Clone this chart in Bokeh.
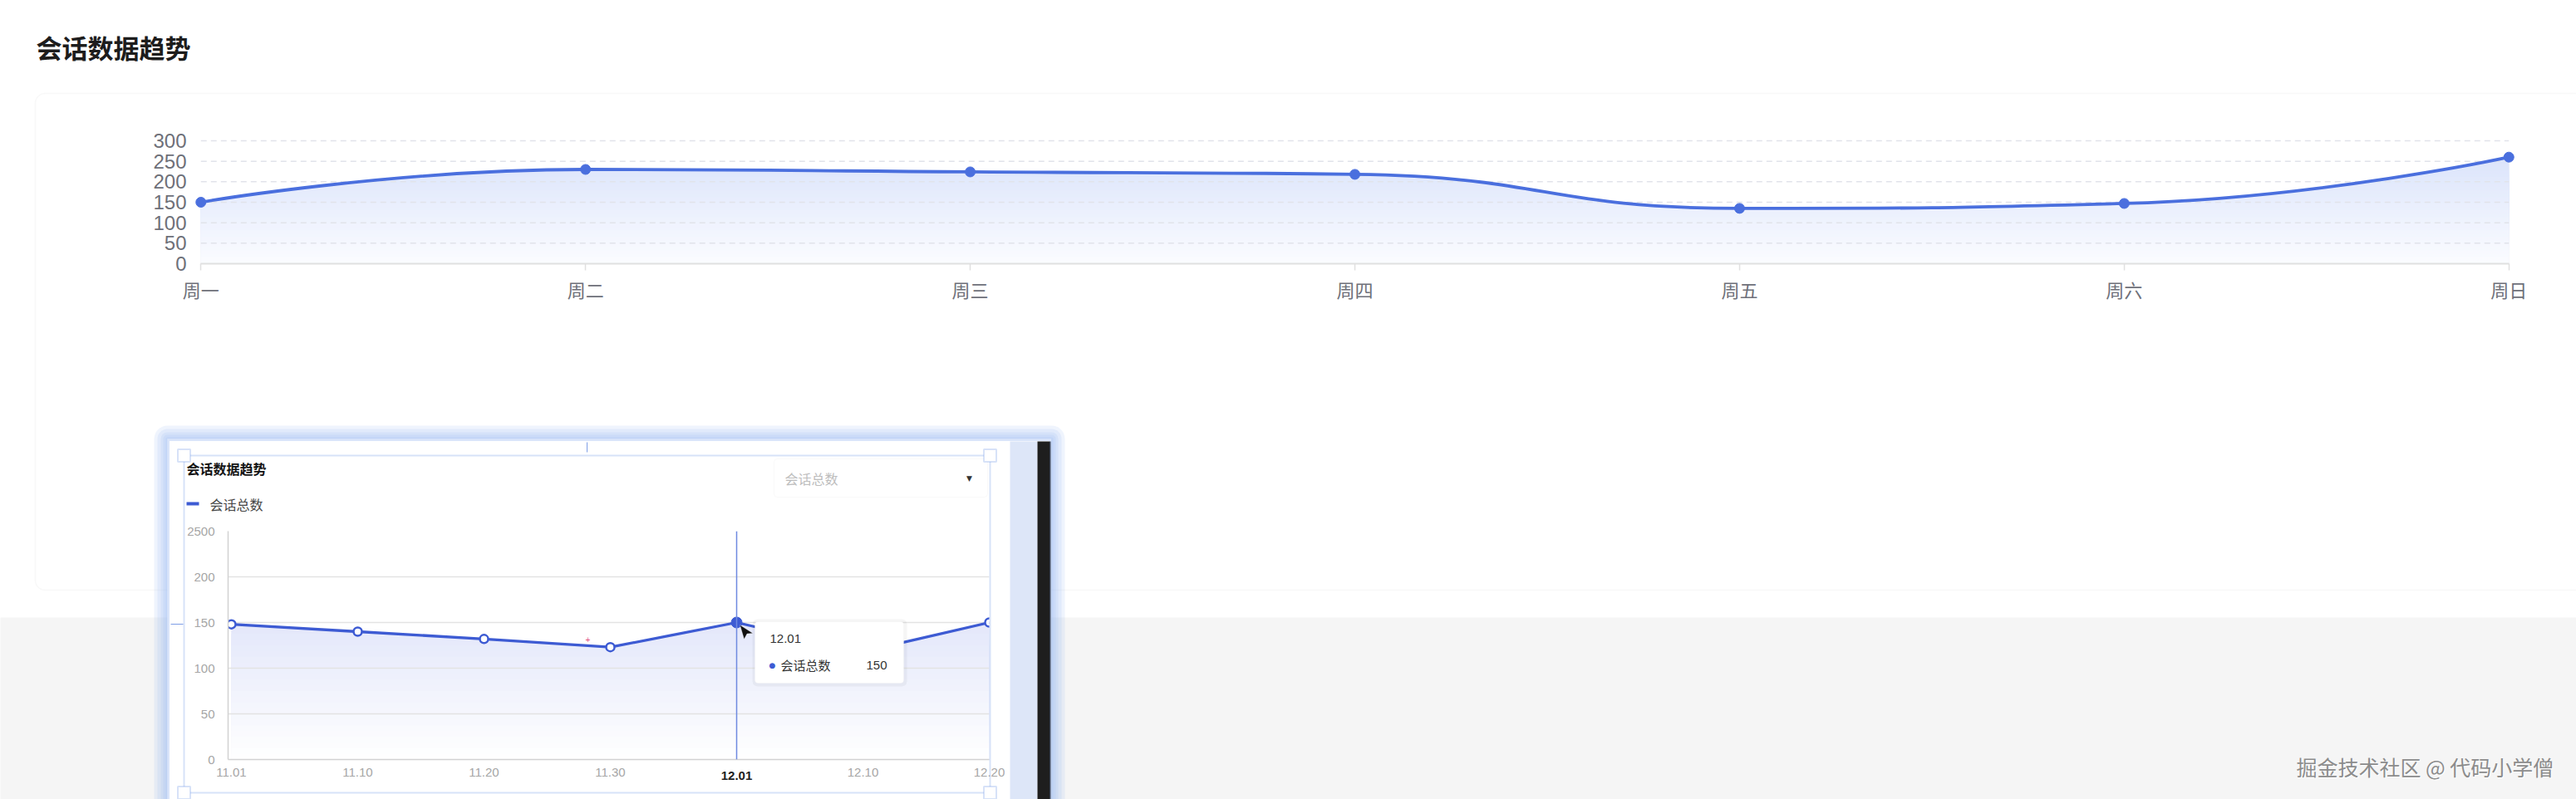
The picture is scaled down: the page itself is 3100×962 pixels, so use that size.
import math
import numpy as np
from bokeh.plotting import figure
from bokeh.models import (Range1d, FixedTicker, BoxAnnotation, Label, Span,
                          PolyAnnotation, ColumnDataSource, Plot)
from bokeh.layouts import column
from bokeh.embed import file_html
from bokeh.resources import INLINE

# ---------------- data ----------------
days = ["周一", "周二", "周三", "周四", "周五", "周六", "周日"]
sessions = [150, 230, 224, 218, 135, 147, 260]
y_ticks = [0, 50, 100, 150, 200, 250, 300]

inset_dates = ["11.01", "11.10", "11.20", "11.30", "12.01", "12.10", "12.20"]
inset_values = [148, 140, 132, 123, 150, 118, 150]
inset_y_ticks = [0, 50, 100, 150, 200, 250]
inset_top_label = "2500"
hover_index = 4

series_name = "会话总数"
page_title = "会话数据趋势"
watermark = "掘金技术社区 @ 代码小学僧"

CJK = "Noto Sans CJK SC"
LAT = "Liberation Sans"
MAIN_BLUE = "#4a6fde"
INSET_BLUE = "#3d5bd3"
HAS_FRAME_ALIGN = "frame_align" in Plot.properties()


def hexc(c):
    return "#%02x%02x%02x" % tuple(int(round(v)) for v in c)


def echarts_smooth(xs, ys, smooth=0.5):
    """Bezier control points like ECharts' smooth line (in pixel space)."""
    n = len(xs)
    segs = []
    cpx0, cpy0 = xs[0], ys[0]
    for i in range(1, n):
        x, y = xs[i], ys[i]
        px, py = xs[i - 1], ys[i - 1]
        if i == n - 1:
            segs.append((px, py, cpx0, cpy0, x, y, x, y))
            break
        nx, ny = xs[i + 1], ys[i + 1]
        vx, vy = nx - px, ny - py
        lp = math.hypot(x - px, y - py)
        ln = math.hypot(nx - x, ny - y)
        r = ln / (ln + lp)
        ncx = x + vx * smooth * r
        ncy = y + vy * smooth * r
        ncx = min(ncx, max(nx, x)); ncy = min(ncy, max(ny, y))
        ncx = max(ncx, min(nx, x)); ncy = max(ncy, min(ny, y))
        vx, vy = ncx - x, ncy - y
        cpx1 = x - vx * lp / ln
        cpy1 = y - vy * lp / ln
        cpx1 = min(cpx1, max(px, x)); cpy1 = min(cpy1, max(py, y))
        cpx1 = max(cpx1, min(px, x)); cpy1 = max(cpy1, min(py, y))
        vx, vy = x - cpx1, y - cpy1
        ncx = x + vx * ln / lp
        ncy = y + vy * ln / lp
        segs.append((px, py, cpx0, cpy0, cpx1, cpy1, x, y))
        cpx0, cpy0 = ncx, ncy
    return segs


def base_fig(w, h, **kw):
    f = figure(width=w, height=h, output_backend="svg", toolbar_location=None, **kw)
    f.outline_line_color = None
    if HAS_FRAME_ALIGN:
        f.frame_align = False
    return f


def canvas_fig(w, h, margin=None, bg=None):
    """A figure whose frame is its whole canvas, in pixel coordinates (y down)."""
    kw = dict(x_range=Range1d(0, w), y_range=Range1d(h, 0), x_axis_type=None, y_axis_type=None,
              min_border_left=0, min_border_right=0, min_border_top=0, min_border_bottom=0)
    if margin is not None:
        kw["margin"] = margin
    f = base_fig(w, h, **kw)
    f.background_fill_color = bg
    f.border_fill_color = None
    return f


def box(**kw):
    return BoxAnnotation(**kw)


W, H = 3100, 962

# ---------------- layer A: page decoration ----------------
bgf = canvas_fig(W, H, bg="white")
bgf.add_layout(box(left=-10, right=W + 10, top=743, bottom=H + 10,
                   fill_color="#f5f5f5", fill_alpha=1, line_color=None))
bgf.add_layout(box(left=42, right=W + 40, top=112, bottom=710, fill_color=None,
                   line_color="#e8e8e8", line_width=1.5, border_radius=12))
for g in (16, 12, 8, 5, 2):
    bgf.add_layout(box(left=201 - g, right=1265 + g, top=528 - g, bottom=H + 20,
                       fill_color="#94b2f4", fill_alpha=0.15, line_color=None, border_radius=g))
bgf.add_layout(Label(x=43, y=56, text=page_title, text_font=CJK, text_font_size="31px",
                     text_font_style="bold", text_color="#1d1d1d",
                     text_align="left", text_baseline="middle"))
bgf.add_layout(Label(x=2764, y=923, text=watermark, text_font=CJK, text_font_size="25px",
                     text_color="#ffffff", text_align="left", text_baseline="middle"))
bgf.add_layout(Label(x=2763, y=922, text=watermark, text_font=CJK, text_font_size="25px",
                     text_color="#8c8c8c", text_align="left", text_baseline="middle"))

# ---------------- layer B: main chart ----------------
FL, FR, FT, FB = 232, 3028, 166, 317
XPAD = 0.02
YTOP = 306
nd = len(days)

p = base_fig(W, H, x_range=Range1d(-XPAD, nd - 1 + XPAD), y_range=Range1d(0, YTOP),
             min_border_left=FL, min_border_right=W - FR,
             min_border_top=FT, min_border_bottom=H - FB, margin=(-H, 0, 0, 0))
p.background_fill_color = None
p.border_fill_color = None
p.xgrid.visible = False
p.ygrid.visible = False

xa = p.xaxis[0]
xa.ticker = FixedTicker(ticks=list(range(nd)))
xa.major_label_overrides = {i: d for i, d in enumerate(days)}
xa.bounds = (0, nd - 1)
xa.axis_line_color = "#e0e0e0"
xa.axis_line_width = 2
xa.major_tick_line_color = "#e0e0e0"
xa.major_tick_line_width = 1.5
xa.major_tick_out = 8
xa.major_tick_in = 0
xa.minor_tick_line_color = None
xa.major_label_text_font = CJK
xa.major_label_text_font_size = "22px"
xa.major_label_text_color = "#6e7079"
xa.major_label_standoff = 6

ya = p.yaxis[0]
ya.ticker = FixedTicker(ticks=y_ticks)
ya.axis_line_color = None
ya.major_tick_line_color = None
ya.minor_tick_line_color = None
ya.major_tick_out = 0
ya.major_tick_in = 0
ya.major_label_standoff = 8
ya.major_label_text_font = LAT
ya.major_label_text_font_size = "24px"
ya.major_label_text_color = "#6e7079"

sxp = (FR - FL) / (nd - 1 + 2 * XPAD)
syp = (FB - FT) / YTOP
segs = echarts_smooth([i * sxp for i in range(nd)], [v * syp for v in sessions])
segs = [(a / sxp, b / syp, c / sxp, d / syp, e / sxp, f / syp, g / sxp, h / syp)
        for (a, b, c, d, e, f, g, h) in segs]

bz = ColumnDataSource(dict(
    x0=[s[0] for s in segs], y0=[s[1] for s in segs],
    cx0=[s[2] for s in segs], cy0=[s[3] for s in segs],
    cx1=[s[4] for s in segs], cy1=[s[5] for s in segs],
    x1=[s[6] for s in segs], y1=[s[7] for s in segs]))

t = np.linspace(0, 1, 60)
cx, cy = [], []
for k, (a, b, c, d, e, f, g, h) in enumerate(segs):
    tt = t if k == 0 else t[1:]
    mt = 1 - tt
    cx.append(mt**3 * a + 3 * mt**2 * tt * c + 3 * mt * tt**2 * e + tt**3 * g)
    cy.append(mt**3 * b + 3 * mt**2 * tt * d + 3 * mt * tt**2 * f + tt**3 * h)
cx = np.concatenate(cx)
cy = np.concatenate(cy)

top_c = np.array([219, 228, 251])
bot_c = np.array([251, 252, 255])
nb = 32
vmax = max(sessions)
for k in range(nb):
    hi = vmax * (1 - k / nb)
    mid = vmax * (1 - (k + 0.5) / nb)
    col = bot_c + (top_c - bot_c) * (mid / vmax)
    p.varea(x=cx, y1=0, y2=np.minimum(cy, hi), fill_color=hexc(col), level="image")

grid_levels = y_ticks[1:]
p.segment(x0=0, x1=nd - 1, y0=grid_levels, y1=grid_levels, line_color="#e1e3ea",
          line_width=1.5, line_dash="7 5", level="underlay")

p.bezier(x0="x0", y0="y0", x1="x1", y1="y1", cx0="cx0", cy0="cy0", cx1="cx1", cy1="cy1",
         source=bz, line_color=MAIN_BLUE, line_width=3.8)
p.scatter(x=list(range(nd)), y=sessions, size=12, marker="circle",
          fill_color=MAIN_BLUE, line_color=MAIN_BLUE)

# ---------------- inset (screenshot of a chart editor) ----------------
IX, IY = 201, 528
IW, IH = 1064, H - IY
IMARGIN = (-(H - IY), 0, 0, IX)
IFL, IFR, IFT, IFB = 73, 989, 111, 386
IXPAD = 0.0263
ni = len(inset_dates)
SEL = "#7ba0e9"

# layer C: inset panel chrome
ibg = canvas_fig(IW, IH, margin=IMARGIN, bg="white")
ibg.add_layout(box(left=1014, right=1047, top=3, bottom=IH + 5,
                   fill_color="#dde6f8", fill_alpha=1, line_color=None))
ibg.add_layout(box(left=1047, right=1063, top=3, bottom=IH + 5,
                   fill_color="#1e1e1e", fill_alpha=1, line_color=None))
ibg.add_layout(box(left=1, right=IW - 1, top=1, bottom=IH + 10,
                   fill_color=None, line_color="#86a9f0", line_width=3))
ibg.add_layout(Label(x=23, y=35, text=page_title, text_font=CJK, text_font_size="16px",
                     text_font_style="bold", text_color="#141414",
                     text_align="left", text_baseline="middle"))
ibg.add_layout(box(left=23, right=38, top=76, bottom=80,
                   fill_color=INSET_BLUE, fill_alpha=1, line_color=None))
ibg.add_layout(Label(x=51, y=78, text=series_name, text_font=CJK, text_font_size="16px",
                     text_color="#454545", text_align="left", text_baseline="middle"))
ibg.add_layout(box(left=730, right=987, top=24, bottom=70, fill_color="white", fill_alpha=1,
                   line_color="#ebebeb", line_width=1, border_radius=4))
ibg.add_layout(Label(x=743, y=47, text=series_name, text_font=CJK, text_font_size="16px",
                     text_color="#bdbdbd", text_align="left", text_baseline="middle"))
ibg.add_layout(Label(x=965, y=47, text="▼", text_font="DejaVu Sans", text_font_size="9px",
                     text_color="#333333", text_align="center", text_baseline="middle"))

# layer D: inset chart
q = base_fig(IW, IH, x_range=Range1d(-IXPAD, ni - 1), y_range=Range1d(0, inset_y_ticks[-1]),
             min_border_left=IFL, min_border_right=IW - IFR,
             min_border_top=IFT, min_border_bottom=IH - IFB, margin=IMARGIN)
q.background_fill_color = None
q.border_fill_color = None
q.xgrid.visible = False
q.ygrid.grid_line_color = "#e3e3e3"
q.ygrid.grid_line_width = 1.5

qx = q.xaxis[0]
qx.ticker = FixedTicker(ticks=list(range(ni)))
qx.major_label_overrides = {i: ("" if i == hover_index else d) for i, d in enumerate(inset_dates)}
qx.axis_line_color = "#d2d2d2"
qx.axis_line_width = 1.5
qx.major_tick_line_color = None
qx.minor_tick_line_color = None
qx.major_tick_out = 0
qx.major_tick_in = 0
qx.major_label_standoff = 10
qx.major_label_text_font = LAT
qx.major_label_text_font_size = "15px"
qx.major_label_text_color = "#a6a6a6"

qy = q.yaxis[0]
qy.ticker = FixedTicker(ticks=inset_y_ticks)
qy.major_label_overrides = {inset_y_ticks[-1]: inset_top_label}
qy.axis_line_color = "#d2d2d2"
qy.axis_line_width = 1.5
qy.major_tick_line_color = None
qy.minor_tick_line_color = None
qy.major_tick_out = 0
qy.major_tick_in = 0
qy.major_label_standoff = 16
qy.major_label_text_font = LAT
qy.major_label_text_font_size = "15px"
qy.major_label_text_color = "#a6a6a6"

xi = list(range(ni))
fx = np.linspace(0, ni - 1, 601)
fy = np.interp(fx, xi, inset_values)
itop = np.array([227, 231, 250])
ibot = np.array([255, 255, 255])
ivmax = max(inset_values)
for k in range(24):
    hi = ivmax * (1 - k / 24)
    mid = ivmax * (1 - (k + 0.5) / 24)
    col = ibot + (itop - ibot) * (mid / ivmax)
    q.varea(x=fx, y1=0, y2=np.minimum(fy, hi), fill_color=hexc(col), level="image")

q.add_layout(Span(location=hover_index, dimension="height", line_color="#6f8ae0", line_width=1.5))
q.line(x=xi, y=inset_values, line_color=INSET_BLUE, line_width=3.3)
others = [i for i in xi if i != hover_index]
q.scatter(x=others, y=[inset_values[i] for i in others], size=10, marker="circle",
          fill_color="white", line_color=INSET_BLUE, line_width=2.5)
q.scatter(x=[hover_index], y=[inset_values[hover_index]], size=13, marker="circle",
          fill_color=INSET_BLUE, line_color=INSET_BLUE)

# layer E: overlay (selection frame, tooltip, cursor)
ov = canvas_fig(IW, IH, margin=IMARGIN, bg=None)
ov.add_layout(box(left=20, right=990, top=20, bottom=426, fill_color=None,
                  line_color=SEL, line_width=2))
for (hx, hy) in [(20, 20), (990, 20), (20, 426), (990, 426)]:
    ov.add_layout(box(left=hx - 7.5, right=hx + 7.5, top=hy - 7.5, bottom=hy + 7.5,
                      fill_color="white", fill_alpha=1, line_color=SEL, line_width=2))
ov.add_layout(box(left=504.5, right=505.5, top=4, bottom=16,
                  fill_color="#7e9ee6", fill_alpha=1, line_color=None))
ov.add_layout(box(left=4, right=19, top=222.5, bottom=223.5,
                  fill_color="#7e9ee6", fill_alpha=1, line_color=None))
ov.add_layout(Label(x=506, y=241, text="+", text_font=LAT, text_font_size="10px",
                    text_color="#e0507a", text_align="center", text_baseline="middle"))

# bold label of the hovered category, at the same x as the inset's tick
hover_px = IFL + (hover_index + IXPAD) * (IFR - IFL) / (ni - 1 + IXPAD)
ov.add_layout(Label(x=hover_px, y=405, text=inset_dates[hover_index], text_font=LAT,
                    text_font_size="15px", text_font_style="bold", text_color="#222222",
                    text_align="center", text_baseline="middle"))

ov.add_layout(box(left=704, right=890, top=217, bottom=298, fill_color="#000000",
                  fill_alpha=0.04, line_color=None, border_radius=6))
ov.add_layout(box(left=707, right=886, top=220, bottom=294, fill_color="white", fill_alpha=1,
                  line_color="#f1f1f1", line_width=1, border_radius=4))
ov.add_layout(Label(x=725, y=240, text=inset_dates[hover_index], text_font=LAT,
                    text_font_size="15px", text_color="#333333",
                    text_align="left", text_baseline="middle"))
ov.add_layout(Label(x=728, y=272, text="●", text_font="DejaVu Sans", text_font_size="9px",
                    text_color=INSET_BLUE, text_align="center", text_baseline="middle"))
ov.add_layout(Label(x=738, y=272, text=series_name, text_font=CJK, text_font_size="15px",
                    text_color="#333333", text_align="left", text_baseline="middle"))
ov.add_layout(Label(x=866, y=272, text=str(inset_values[hover_index]), text_font=LAT,
                    text_font_size="15px", text_color="#333333",
                    text_align="right", text_baseline="middle"))
cur = [(689, 224), (694, 241), (697.5, 234.5), (704.5, 234)]
ov.add_layout(PolyAnnotation(xs=[c[0] for c in cur], ys=[c[1] for c in cur],
                             fill_color="#111111", fill_alpha=1,
                             line_color="white", line_width=1))

layout = column(bgf, p, ibg, q, ov)
open("out.html", "w").write(file_html(layout, INLINE))
